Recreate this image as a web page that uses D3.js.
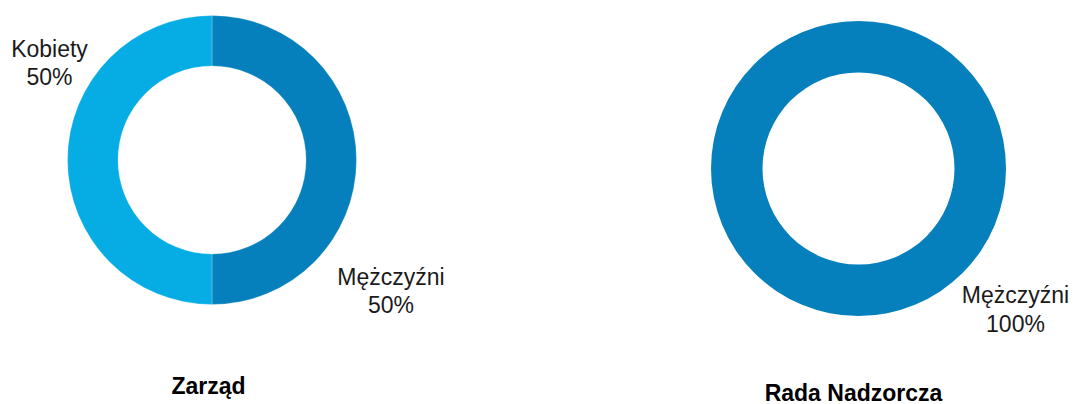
<!DOCTYPE html>
<html><head><meta charset="utf-8">
<script src="https://cdn.jsdelivr.net/npm/d3@7"></script>
<style>html,body{margin:0;padding:0;background:#fff;}svg{display:block;}</style>
</head><body>
<svg id="c" width="1073" height="404"></svg>
<script>
const charts = ["Zarząd", "Rada Nadzorcza"];
const categories = ["Mężczyźni", "Kobiety"];
const zarzadValues = [50, 50];
const radaValues = [100, 0];
const colors = {"Mężczyźni": "#0580BC", "Kobiety": "#05ADE4"};

const svg = d3.select("#c");
const font = "Liberation Sans, Arial, sans-serif";

const layout = [
  {cx: 212, cy: 160, ro: 144.5, ri: 94, title: [208.5, 394],
   labels: {"Mężczyźni": [391, 284.5], "Kobiety": [49.5, 56.5]}},
  {cx: 858.5, cy: 168.5, ro: 147.5, ri: 96, title: [853.5, 400.5],
   labels: {"Mężczyźni": [1015.5, 303]}}
];
const valueSets = [zarzadValues, radaValues];

const pie = d3.pie().sort(null).value(d => d.v);

valueSets.forEach((vals, i) => {
  const L = layout[i];
  const data = categories.map((c, k) => ({c, v: vals[k]}));
  const arc = d3.arc().innerRadius(L.ri).outerRadius(L.ro);
  const g = svg.append("g").attr("transform", `translate(${L.cx},${L.cy})`);
  g.selectAll("path").data(pie(data).filter(d => d.data.v > 0)).join("path")
    .attr("d", arc)
    .attr("fill", d => colors[d.data.c])
    .attr("stroke", d => d.data.v < 100 ? "#ffffff" : "none")
    .attr("stroke-opacity", 0.3)
    .attr("stroke-width", 0.8);

  data.filter(d => d.v > 0).forEach(d => {
    const p = L.labels[d.c];
    const t = svg.append("text")
      .attr("x", p[0]).attr("y", p[1])
      .attr("text-anchor", "middle")
      .attr("font-family", font).attr("font-size", 23).attr("fill", "#1a1a1a");
    t.append("tspan").attr("x", p[0]).text(d.c);
    t.append("tspan").attr("x", p[0]).attr("dy", 28.5).text(d.v + "%");
  });

  svg.append("text")
    .attr("x", L.title[0]).attr("y", L.title[1])
    .attr("text-anchor", "middle")
    .attr("font-family", font).attr("font-size", 23).attr("font-weight", "bold")
    .attr("fill", "#000").text(charts[i]);
});
</script>
</body></html>
